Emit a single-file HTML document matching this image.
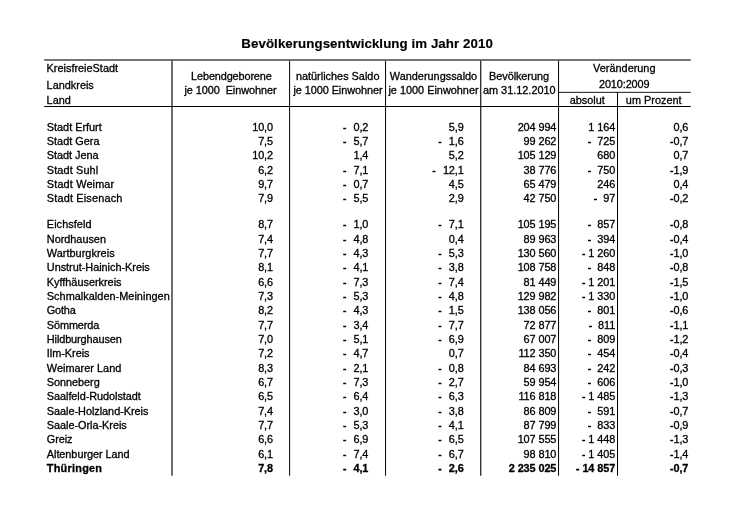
<!DOCTYPE html>
<html lang="de">
<head>
<meta charset="utf-8">
<title>Bevölkerungsentwicklung im Jahr 2010</title>
<style>
html,body{margin:0;padding:0;background:#fff;}
body{width:740px;height:515px;position:relative;overflow:hidden;font-family:"Liberation Sans",sans-serif;font-size:10.9px;color:#000;line-height:14px;-webkit-text-stroke:0.3px #000;}
.wrap{position:absolute;left:0;top:0;width:740px;height:515px;background:#fff;will-change:transform;filter:grayscale(1);}
.t{position:absolute;left:0;width:740px;text-align:center;font-weight:bold;font-size:13.3px;line-height:16px;color:#000;letter-spacing:0.07px;-webkit-text-stroke:0.15px #000;}
.r{position:absolute;left:0;width:740px;height:14px;white-space:pre;}
.r .n{position:absolute;left:46.8px;top:0;}
.r .v{position:absolute;top:0;text-align:right;letter-spacing:-0.1px;}
.b{font-weight:bold;color:#000;}

.m{display:inline-block;width:3.63px;text-align:center;font-size:8.8px;-webkit-text-stroke:0.75px #000;letter-spacing:0;}
.h{position:absolute;width:200px;text-align:center;white-space:nowrap;height:14px;}
.hl{position:absolute;left:46.6px;white-space:nowrap;height:14px;}
.rules{position:absolute;left:0;top:0;}
</style>
</head>
<body>
<div class="wrap">
<div class="t" style="top:35.6px;left:-2.9px">Bevölkerungsentwicklung im Jahr 2010</div>
<!-- rules -->
<svg class="rules" width="740" height="515" viewBox="0 0 740 515">
<rect x="171" y="60" width="2" height="415.7" fill="#6e6e6e"/>
<rect x="289.1" y="60" width="1" height="415.7" fill="#000"/>
<rect x="385.05" y="60" width="1" height="415.7" fill="#000"/>
<rect x="480.2" y="60" width="1.1" height="415.7" fill="#000"/>
<rect x="558.05" y="60" width="1" height="415.7" fill="#000"/>
<rect x="617" y="92" width="1" height="383.7" fill="#000"/>
<rect x="44.2" y="59.1" width="646.6" height="1.8" fill="#666"/>
<rect x="44.2" y="106" width="646.6" height="1" fill="#000"/>
<rect x="558.5" y="91.85" width="132.3" height="1" fill="#1a1a1a"/>
</svg>
<!-- header -->
<div class="hl" style="top:61.29px">KreisfreieStadt</div>
<div class="hl" style="top:77.59px">Landkreis</div>
<div class="hl" style="top:92.79px">Land</div>
<div class="h" style="left:131.4px;top:69.19px;letter-spacing:-0.13px">Lebendgeborene</div>
<div class="h" style="left:130.5px;top:83.39px;letter-spacing:-0.07px">je 1000&nbsp; Einwohner</div>
<div class="h" style="left:237.7px;top:69.19px">natürliches Saldo</div>
<div class="h" style="left:238.0px;top:83.39px;letter-spacing:-0.06px">je 1000 Einwohner</div>
<div class="h" style="left:333.5px;top:69.19px">Wanderungssaldo</div>
<div class="h" style="left:333.5px;top:83.39px">je 1000 Einwohner</div>
<div class="h" style="left:419.0px;top:69.19px;letter-spacing:-0.06px">Bevölkerung</div>
<div class="h" style="left:419.3px;top:83.39px">am 31.12.2010</div>
<div class="h" style="left:524.3px;top:61.09px">Veränderung</div>
<div class="h" style="left:524.2px;top:77.29px;letter-spacing:-0.12px">2010:2009</div>
<div class="h" style="left:487.3px;top:92.79px">absolut</div>
<div class="h" style="left:553.7px;top:92.79px">um Prozent</div>
<!-- rows -->
<div class="r" style="top:119.69px"><span class="n" style="letter-spacing:-0.014px">Stadt Erfurt</span><span class="v" style="right:467.0px">10,0</span><span class="v" style="right:371.7px;word-spacing:0.6px"><span class="m">-</span>  0,2</span><span class="v" style="right:276.3px">5,9</span><span class="v" style="right:183.7px">204 994</span><span class="v" style="right:124.9px">1 164</span><span class="v" style="right:51.7px">0,6</span></div>
<div class="r" style="top:133.97px"><span class="n" style="letter-spacing:0.006px">Stadt Gera</span><span class="v" style="right:467.0px">7,5</span><span class="v" style="right:371.7px;word-spacing:0.6px"><span class="m">-</span>  5,7</span><span class="v" style="right:276.3px;word-spacing:0.6px"><span class="m">-</span>  1,6</span><span class="v" style="right:183.7px">99 262</span><span class="v" style="right:124.9px"><span class="m">-</span>  725</span><span class="v" style="right:51.7px"><span class="m">-</span>0,7</span></div>
<div class="r" style="top:148.25px"><span class="n" style="letter-spacing:-0.030px">Stadt Jena</span><span class="v" style="right:467.0px">10,2</span><span class="v" style="right:371.7px">1,4</span><span class="v" style="right:276.3px">5,2</span><span class="v" style="right:183.7px">105 129</span><span class="v" style="right:124.9px">680</span><span class="v" style="right:51.7px">0,7</span></div>
<div class="r" style="top:162.53px"><span class="n" style="letter-spacing:0.131px">Stadt Suhl</span><span class="v" style="right:467.0px">6,2</span><span class="v" style="right:371.7px;word-spacing:0.6px"><span class="m">-</span>  7,1</span><span class="v" style="right:276.3px;word-spacing:0.6px"><span class="m">-</span>  12,1</span><span class="v" style="right:183.7px">38 776</span><span class="v" style="right:124.9px"><span class="m">-</span>  750</span><span class="v" style="right:51.7px"><span class="m">-</span>1,9</span></div>
<div class="r" style="top:176.81px"><span class="n" style="letter-spacing:0.149px">Stadt Weimar</span><span class="v" style="right:467.0px">9,7</span><span class="v" style="right:371.7px;word-spacing:0.6px"><span class="m">-</span>  0,7</span><span class="v" style="right:276.3px">4,5</span><span class="v" style="right:183.7px">65 479</span><span class="v" style="right:124.9px">246</span><span class="v" style="right:51.7px">0,4</span></div>
<div class="r" style="top:191.09px"><span class="n" style="letter-spacing:0.179px">Stadt Eisenach</span><span class="v" style="right:467.0px">7,9</span><span class="v" style="right:371.7px;word-spacing:0.6px"><span class="m">-</span>  5,5</span><span class="v" style="right:276.3px">2,9</span><span class="v" style="right:183.7px">42 750</span><span class="v" style="right:124.9px"><span class="m">-</span>  97</span><span class="v" style="right:51.7px"><span class="m">-</span>0,2</span></div>
<div class="r" style="top:217.39px"><span class="n" style="letter-spacing:0.067px">Eichsfeld</span><span class="v" style="right:467.0px">8,7</span><span class="v" style="right:371.7px;word-spacing:0.6px"><span class="m">-</span>  1,0</span><span class="v" style="right:276.3px;word-spacing:0.6px"><span class="m">-</span>  7,1</span><span class="v" style="right:183.7px">105 195</span><span class="v" style="right:124.9px"><span class="m">-</span>  857</span><span class="v" style="right:51.7px"><span class="m">-</span>0,8</span></div>
<div class="r" style="top:231.71px"><span class="n" style="letter-spacing:-0.021px">Nordhausen</span><span class="v" style="right:467.0px">7,4</span><span class="v" style="right:371.7px;word-spacing:0.6px"><span class="m">-</span>  4,8</span><span class="v" style="right:276.3px">0,4</span><span class="v" style="right:183.7px">89 963</span><span class="v" style="right:124.9px"><span class="m">-</span>  394</span><span class="v" style="right:51.7px"><span class="m">-</span>0,4</span></div>
<div class="r" style="top:246.03px"><span class="n" style="letter-spacing:0.036px">Wartburgkreis</span><span class="v" style="right:467.0px">7,7</span><span class="v" style="right:371.7px;word-spacing:0.6px"><span class="m">-</span>  4,3</span><span class="v" style="right:276.3px;word-spacing:0.6px"><span class="m">-</span>  5,3</span><span class="v" style="right:183.7px">130 560</span><span class="v" style="right:124.9px"><span class="m">-</span> 1 260</span><span class="v" style="right:51.7px"><span class="m">-</span>1,0</span></div>
<div class="r" style="top:260.35px"><span class="n" style="letter-spacing:-0.026px">Unstrut-Hainich-Kreis</span><span class="v" style="right:467.0px">8,1</span><span class="v" style="right:371.7px;word-spacing:0.6px"><span class="m">-</span>  4,1</span><span class="v" style="right:276.3px;word-spacing:0.6px"><span class="m">-</span>  3,8</span><span class="v" style="right:183.7px">108 758</span><span class="v" style="right:124.9px"><span class="m">-</span>  848</span><span class="v" style="right:51.7px"><span class="m">-</span>0,8</span></div>
<div class="r" style="top:274.67px"><span class="n" style="letter-spacing:-0.012px">Kyffhäuserkreis</span><span class="v" style="right:467.0px">6,6</span><span class="v" style="right:371.7px;word-spacing:0.6px"><span class="m">-</span>  7,3</span><span class="v" style="right:276.3px;word-spacing:0.6px"><span class="m">-</span>  7,4</span><span class="v" style="right:183.7px">81 449</span><span class="v" style="right:124.9px"><span class="m">-</span> 1 201</span><span class="v" style="right:51.7px"><span class="m">-</span>1,5</span></div>
<div class="r" style="top:288.99px"><span class="n" style="letter-spacing:0.029px">Schmalkalden-Meiningen</span><span class="v" style="right:467.0px">7,3</span><span class="v" style="right:371.7px;word-spacing:0.6px"><span class="m">-</span>  5,3</span><span class="v" style="right:276.3px;word-spacing:0.6px"><span class="m">-</span>  4,8</span><span class="v" style="right:183.7px">129 982</span><span class="v" style="right:124.9px"><span class="m">-</span> 1 330</span><span class="v" style="right:51.7px"><span class="m">-</span>1,0</span></div>
<div class="r" style="top:303.31px"><span class="n" style="letter-spacing:-0.173px">Gotha</span><span class="v" style="right:467.0px">8,2</span><span class="v" style="right:371.7px;word-spacing:0.6px"><span class="m">-</span>  4,3</span><span class="v" style="right:276.3px;word-spacing:0.6px"><span class="m">-</span>  1,5</span><span class="v" style="right:183.7px">138 056</span><span class="v" style="right:124.9px"><span class="m">-</span>  801</span><span class="v" style="right:51.7px"><span class="m">-</span>0,6</span></div>
<div class="r" style="top:317.63px"><span class="n" style="letter-spacing:-0.102px">Sömmerda</span><span class="v" style="right:467.0px">7,7</span><span class="v" style="right:371.7px;word-spacing:0.6px"><span class="m">-</span>  3,4</span><span class="v" style="right:276.3px;word-spacing:0.6px"><span class="m">-</span>  7,7</span><span class="v" style="right:183.7px">72 877</span><span class="v" style="right:124.9px"><span class="m">-</span>  811</span><span class="v" style="right:51.7px"><span class="m">-</span>1,1</span></div>
<div class="r" style="top:331.95px"><span class="n" style="letter-spacing:-0.100px">Hildburghausen</span><span class="v" style="right:467.0px">7,0</span><span class="v" style="right:371.7px;word-spacing:0.6px"><span class="m">-</span>  5,1</span><span class="v" style="right:276.3px;word-spacing:0.6px"><span class="m">-</span>  6,9</span><span class="v" style="right:183.7px">67 007</span><span class="v" style="right:124.9px"><span class="m">-</span>  809</span><span class="v" style="right:51.7px"><span class="m">-</span>1,2</span></div>
<div class="r" style="top:346.27px"><span class="n" style="letter-spacing:-0.026px">Ilm-Kreis</span><span class="v" style="right:467.0px">7,2</span><span class="v" style="right:371.7px;word-spacing:0.6px"><span class="m">-</span>  4,7</span><span class="v" style="right:276.3px">0,7</span><span class="v" style="right:183.7px">112 350</span><span class="v" style="right:124.9px"><span class="m">-</span>  454</span><span class="v" style="right:51.7px"><span class="m">-</span>0,4</span></div>
<div class="r" style="top:360.59px"><span class="n" style="letter-spacing:0.019px">Weimarer Land</span><span class="v" style="right:467.0px">8,3</span><span class="v" style="right:371.7px;word-spacing:0.6px"><span class="m">-</span>  2,1</span><span class="v" style="right:276.3px;word-spacing:0.6px"><span class="m">-</span>  0,8</span><span class="v" style="right:183.7px">84 693</span><span class="v" style="right:124.9px"><span class="m">-</span>  242</span><span class="v" style="right:51.7px"><span class="m">-</span>0,3</span></div>
<div class="r" style="top:374.91px"><span class="n" style="letter-spacing:-0.047px">Sonneberg</span><span class="v" style="right:467.0px">6,7</span><span class="v" style="right:371.7px;word-spacing:0.6px"><span class="m">-</span>  7,3</span><span class="v" style="right:276.3px;word-spacing:0.6px"><span class="m">-</span>  2,7</span><span class="v" style="right:183.7px">59 954</span><span class="v" style="right:124.9px"><span class="m">-</span>  606</span><span class="v" style="right:51.7px"><span class="m">-</span>1,0</span></div>
<div class="r" style="top:389.23px"><span class="n" style="letter-spacing:-0.054px">Saalfeld-Rudolstadt</span><span class="v" style="right:467.0px">6,5</span><span class="v" style="right:371.7px;word-spacing:0.6px"><span class="m">-</span>  6,4</span><span class="v" style="right:276.3px;word-spacing:0.6px"><span class="m">-</span>  6,3</span><span class="v" style="right:183.7px">116 818</span><span class="v" style="right:124.9px"><span class="m">-</span> 1 485</span><span class="v" style="right:51.7px"><span class="m">-</span>1,3</span></div>
<div class="r" style="top:403.55px"><span class="n" style="letter-spacing:-0.036px">Saale-Holzland-Kreis</span><span class="v" style="right:467.0px">7,4</span><span class="v" style="right:371.7px;word-spacing:0.6px"><span class="m">-</span>  3,0</span><span class="v" style="right:276.3px;word-spacing:0.6px"><span class="m">-</span>  3,8</span><span class="v" style="right:183.7px">86 809</span><span class="v" style="right:124.9px"><span class="m">-</span>  591</span><span class="v" style="right:51.7px"><span class="m">-</span>0,7</span></div>
<div class="r" style="top:417.87px"><span class="n" style="letter-spacing:-0.038px">Saale-Orla-Kreis</span><span class="v" style="right:467.0px">7,7</span><span class="v" style="right:371.7px;word-spacing:0.6px"><span class="m">-</span>  5,3</span><span class="v" style="right:276.3px;word-spacing:0.6px"><span class="m">-</span>  4,1</span><span class="v" style="right:183.7px">87 799</span><span class="v" style="right:124.9px"><span class="m">-</span>  833</span><span class="v" style="right:51.7px"><span class="m">-</span>0,9</span></div>
<div class="r" style="top:432.19px"><span class="n" style="letter-spacing:-0.096px">Greiz</span><span class="v" style="right:467.0px">6,6</span><span class="v" style="right:371.7px;word-spacing:0.6px"><span class="m">-</span>  6,9</span><span class="v" style="right:276.3px;word-spacing:0.6px"><span class="m">-</span>  6,5</span><span class="v" style="right:183.7px">107 555</span><span class="v" style="right:124.9px"><span class="m">-</span> 1 448</span><span class="v" style="right:51.7px"><span class="m">-</span>1,3</span></div>
<div class="r" style="top:446.51px"><span class="n" style="letter-spacing:-0.049px">Altenburger Land</span><span class="v" style="right:467.0px">6,1</span><span class="v" style="right:371.7px;word-spacing:0.6px"><span class="m">-</span>  7,4</span><span class="v" style="right:276.3px;word-spacing:0.6px"><span class="m">-</span>  6,7</span><span class="v" style="right:183.7px">98 810</span><span class="v" style="right:124.9px"><span class="m">-</span> 1 405</span><span class="v" style="right:51.7px"><span class="m">-</span>1,4</span></div>
<div class="r b" style="top:460.83px"><span class="n" style="letter-spacing:0.244px">Thüringen</span><span class="v" style="right:467.0px">7,8</span><span class="v" style="right:371.7px;word-spacing:0.6px"><span class="m">-</span>  4,1</span><span class="v" style="right:276.3px;word-spacing:0.6px"><span class="m">-</span>  2,6</span><span class="v" style="right:183.7px">2 235 025</span><span class="v" style="right:124.9px"><span class="m">-</span> 14 857</span><span class="v" style="right:51.7px"><span class="m">-</span>0,7</span></div>
</div>
</body>
</html>
